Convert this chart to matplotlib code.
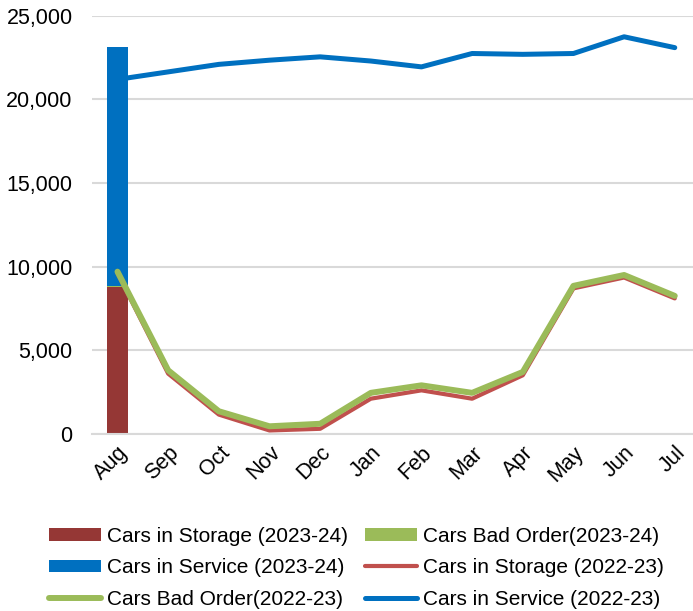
import numpy as np
import matplotlib.pyplot as plt
from matplotlib.ticker import FuncFormatter

plt.rcParams['font.family'] = ['Liberation Sans', 'DejaVu Sans']

# data
months = ['Aug', 'Sep', 'Oct', 'Nov', 'Dec', 'Jan', 'Feb', 'Mar', 'Apr', 'May', 'Jun', 'Jul']

# 2023-24 (only Aug so far, stacked bar)
storage_2324 = [8800]
bad_order_2324 = [60]
service_2324 = [14300]

# 2022-23 lines
storage_2223 = [9600, 3600, 1150, 200, 300, 2100, 2600, 2100, 3500, 8700, 9350, 8100]
bad_order_2223 = [9700, 3800, 1350, 450, 600, 2450, 2900, 2450, 3700, 8850, 9500, 8250]
service_2223 = [21200, 21650, 22100, 22350, 22550, 22300, 21950, 22750, 22700, 22750, 23750, 23100]

x = np.arange(len(months))

fig = plt.figure(figsize=(6.93, 6.11), dpi=100)
ax = fig.add_axes([0.133, 0.29, 0.867, 0.684])

# stacked bar
b1 = ax.bar(x[:1], storage_2324, width=0.42, color='#953735', zorder=2)
b2 = ax.bar(x[:1], bad_order_2324, width=0.42, bottom=storage_2324, color='#9BBB59', zorder=2)
b3 = ax.bar(x[:1], service_2324, width=0.42,
            bottom=np.array(storage_2324) + np.array(bad_order_2324), color='#0070C0', zorder=2)

# lines
l1, = ax.plot(x, storage_2223, color='#C0504D', lw=3, solid_capstyle='round', zorder=3)
l2, = ax.plot(x, bad_order_2223, color='#9BBB59', lw=4.3, solid_capstyle='round', zorder=4)
l3, = ax.plot(x, service_2223, color='#0070C0', lw=3.6, solid_capstyle='round', zorder=4)

ax.set_xlim(-0.5, 11.36)
ax.set_ylim(0, 25000)
ax.set_yticks(np.arange(0, 25001, 5000))
ax.yaxis.set_major_formatter(FuncFormatter(lambda v, p: f'{int(v):,}'))
ax.set_xticks(x)
ax.set_xticklabels(months, rotation=45, ha='right', rotation_mode='anchor')
ax.tick_params(axis='both', length=0, labelsize=15.5, colors='#000000')
ax.tick_params(axis='y', pad=14)
ax.tick_params(axis='x', pad=6)
ax.grid(axis='y', color='#D9D9D9', lw=1.5, zorder=0)
ax.set_axisbelow(True)
for s in ax.spines.values():
    s.set_visible(False)
ax.spines['bottom'].set_visible(True)
ax.spines['bottom'].set_color('#D9D9D9')
ax.spines['bottom'].set_linewidth(1.5)

handles = [b1, b3, l2, b2, l1, l3]
labels = ['Cars in Storage (2023-24)', 'Cars in Service (2023-24)', 'Cars Bad Order(2022-23)',
          'Cars Bad Order(2023-24)', 'Cars in Storage (2022-23)', 'Cars in Service (2022-23)']
fig.legend(handles, labels, ncol=2, loc='lower center', bbox_to_anchor=(0.514, -0.027),
           frameon=False, fontsize=15, handlelength=2.5, handletextpad=0.3,
           columnspacing=0.8, labelspacing=0.6, handleheight=0.55)

fig.savefig('out.png', dpi=100)
